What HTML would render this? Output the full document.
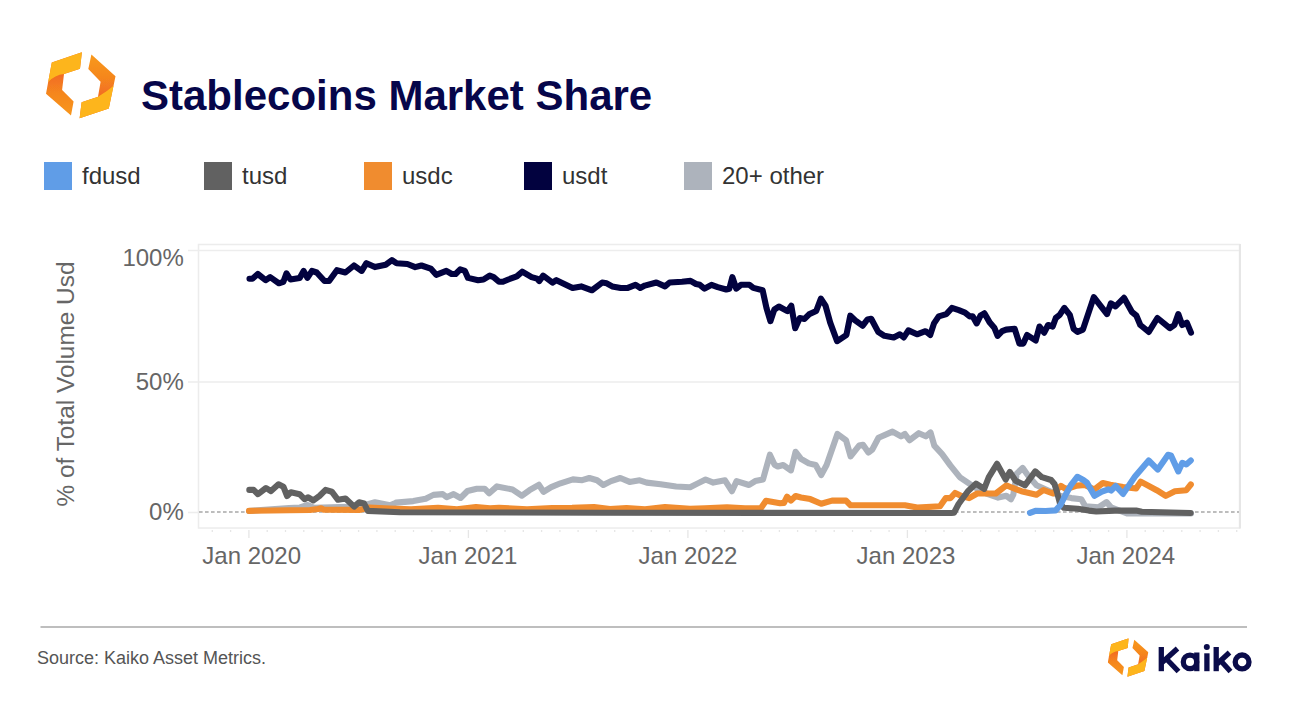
<!DOCTYPE html>
<html><head><meta charset="utf-8">
<style>
html,body{margin:0;padding:0;background:#fff;}
body{width:1290px;height:702px;overflow:hidden;position:relative;}
svg{position:absolute;left:0;top:0;}
text{font-family:"Liberation Sans",sans-serif;}
.ax{font-size:24px;fill:#666666;}
.lg{font-size:24px;fill:#333333;}
</style></head><body>
<svg width="1290" height="702" viewBox="0 0 1290 702">
<defs>
<linearGradient id="gl" gradientUnits="userSpaceOnUse" x1="0" y1="74" x2="0" y2="116">
<stop offset="0" stop-color="#f26a21"/><stop offset="0.45" stop-color="#f5861f"/><stop offset="1" stop-color="#f8971d"/>
</linearGradient>
<linearGradient id="gr" gradientUnits="userSpaceOnUse" x1="0" y1="55" x2="0" y2="97">
<stop offset="0" stop-color="#f8991c"/><stop offset="0.55" stop-color="#f5861f"/><stop offset="1" stop-color="#f26a21"/>
</linearGradient>
<clipPath id="cl"><path d="M81.9,52.2 L51.8,62.4 L46,93.8 L71,115.6 L73.6,101.5 L62.1,90 L64,74 L80,68.8 Z"/></clipPath>
<clipPath id="cr"><path d="M91.4,54.6 L115.5,76.2 L108.8,108.5 L79.6,118.2 L81.6,102.3 L98,96.7 L100.6,81.8 L88.3,69 Z"/></clipPath>
<filter id="soft" x="-10%" y="-10%" width="120%" height="120%"><feGaussianBlur stdDeviation="0.45"/></filter>
<g id="logo" filter="url(#soft)">
<g clip-path="url(#cl)">
<rect x="40" y="45" width="50" height="80" fill="url(#gl)"/>
<path d="M40,40 L95,40 L95,74 L64,74 Q55,74.8 48.2,82 L40,92 Z" fill="#fdb51b"/>
</g>
<g clip-path="url(#cr)">
<rect x="75" y="45" width="50" height="80" fill="url(#gr)"/>
<path d="M125,80 L114.5,84.9 Q106.5,91.8 98,96.7 L70,104 L70,130 L125,130 Z" fill="#fdb51b"/>
</g>
</g>
</defs>
<use href="#logo"/>
<text x="141" y="110" style="font-size:42px;font-weight:bold;fill:#06064a">Stablecoins Market Share</text>
<rect x="44" y="162" width="28" height="28" fill="#609de7"/><text x="82" y="183.5" class="lg">fdusd</text>
<rect x="204" y="162" width="28" height="28" fill="#616161"/><text x="242" y="183.5" class="lg">tusd</text>
<rect x="364" y="162" width="28" height="28" fill="#f08c2f"/><text x="402" y="183.5" class="lg">usdc</text>
<rect x="524" y="162" width="28" height="28" fill="#02023f"/><text x="562" y="183.5" class="lg">usdt</text>
<rect x="684" y="162" width="28" height="28" fill="#adb3bc"/><text x="722" y="183.5" class="lg">20+ other</text>

<text transform="translate(74,384) rotate(-90)" text-anchor="middle" class="ax" style="font-size:24.4px">% of Total Volume Usd</text>
<text x="183.8" y="265.5" text-anchor="end" class="ax">100%</text>
<text x="183.8" y="390" text-anchor="end" class="ax">50%</text>
<text x="183.8" y="520" text-anchor="end" class="ax">0%</text>

<rect x="198.5" y="244.5" width="1041" height="283.5" fill="none" stroke="#ececec" stroke-width="1.5"/>
<line x1="1240" y1="244" x2="1240" y2="528.5" stroke="#e6e6e6" stroke-width="2"/>
<line x1="188" y1="250.5" x2="1239" y2="250.5" stroke="#ededed" stroke-width="1.6"/>
<line x1="188" y1="382" x2="1239" y2="382" stroke="#ededed" stroke-width="1.6"/>
<line x1="188" y1="512.5" x2="198" y2="512.5" stroke="#ededed" stroke-width="1.6"/>
<line x1="199" y1="512" x2="1239" y2="512" stroke="#bdbdbd" stroke-width="1.8" stroke-dasharray="3.6 2.4"/>
<line x1="212.3" y1="530" x2="212.3" y2="532" stroke="#e6e6e6" stroke-width="1.3"/>
<line x1="230.6" y1="530" x2="230.6" y2="532" stroke="#e6e6e6" stroke-width="1.3"/>
<line x1="248.9" y1="530" x2="248.9" y2="538" stroke="#e6e6e6" stroke-width="1.3"/>
<line x1="267.2" y1="530" x2="267.2" y2="532" stroke="#e6e6e6" stroke-width="1.3"/>
<line x1="285.5" y1="530" x2="285.5" y2="532" stroke="#e6e6e6" stroke-width="1.3"/>
<line x1="303.8" y1="530" x2="303.8" y2="532" stroke="#e6e6e6" stroke-width="1.3"/>
<line x1="322.1" y1="530" x2="322.1" y2="532" stroke="#e6e6e6" stroke-width="1.3"/>
<line x1="340.4" y1="530" x2="340.4" y2="532" stroke="#e6e6e6" stroke-width="1.3"/>
<line x1="358.6" y1="530" x2="358.6" y2="532" stroke="#e6e6e6" stroke-width="1.3"/>
<line x1="376.9" y1="530" x2="376.9" y2="532" stroke="#e6e6e6" stroke-width="1.3"/>
<line x1="395.2" y1="530" x2="395.2" y2="532" stroke="#e6e6e6" stroke-width="1.3"/>
<line x1="413.5" y1="530" x2="413.5" y2="532" stroke="#e6e6e6" stroke-width="1.3"/>
<line x1="431.8" y1="530" x2="431.8" y2="532" stroke="#e6e6e6" stroke-width="1.3"/>
<line x1="450.1" y1="530" x2="450.1" y2="532" stroke="#e6e6e6" stroke-width="1.3"/>
<line x1="468.4" y1="530" x2="468.4" y2="538" stroke="#e6e6e6" stroke-width="1.3"/>
<line x1="486.7" y1="530" x2="486.7" y2="532" stroke="#e6e6e6" stroke-width="1.3"/>
<line x1="505.0" y1="530" x2="505.0" y2="532" stroke="#e6e6e6" stroke-width="1.3"/>
<line x1="523.3" y1="530" x2="523.3" y2="532" stroke="#e6e6e6" stroke-width="1.3"/>
<line x1="541.6" y1="530" x2="541.6" y2="532" stroke="#e6e6e6" stroke-width="1.3"/>
<line x1="559.9" y1="530" x2="559.9" y2="532" stroke="#e6e6e6" stroke-width="1.3"/>
<line x1="578.1" y1="530" x2="578.1" y2="532" stroke="#e6e6e6" stroke-width="1.3"/>
<line x1="596.4" y1="530" x2="596.4" y2="532" stroke="#e6e6e6" stroke-width="1.3"/>
<line x1="614.7" y1="530" x2="614.7" y2="532" stroke="#e6e6e6" stroke-width="1.3"/>
<line x1="633.0" y1="530" x2="633.0" y2="532" stroke="#e6e6e6" stroke-width="1.3"/>
<line x1="651.3" y1="530" x2="651.3" y2="532" stroke="#e6e6e6" stroke-width="1.3"/>
<line x1="669.6" y1="530" x2="669.6" y2="532" stroke="#e6e6e6" stroke-width="1.3"/>
<line x1="687.9" y1="530" x2="687.9" y2="538" stroke="#e6e6e6" stroke-width="1.3"/>
<line x1="706.2" y1="530" x2="706.2" y2="532" stroke="#e6e6e6" stroke-width="1.3"/>
<line x1="724.5" y1="530" x2="724.5" y2="532" stroke="#e6e6e6" stroke-width="1.3"/>
<line x1="742.8" y1="530" x2="742.8" y2="532" stroke="#e6e6e6" stroke-width="1.3"/>
<line x1="761.1" y1="530" x2="761.1" y2="532" stroke="#e6e6e6" stroke-width="1.3"/>
<line x1="779.4" y1="530" x2="779.4" y2="532" stroke="#e6e6e6" stroke-width="1.3"/>
<line x1="797.6" y1="530" x2="797.6" y2="532" stroke="#e6e6e6" stroke-width="1.3"/>
<line x1="815.9" y1="530" x2="815.9" y2="532" stroke="#e6e6e6" stroke-width="1.3"/>
<line x1="834.2" y1="530" x2="834.2" y2="532" stroke="#e6e6e6" stroke-width="1.3"/>
<line x1="852.5" y1="530" x2="852.5" y2="532" stroke="#e6e6e6" stroke-width="1.3"/>
<line x1="870.8" y1="530" x2="870.8" y2="532" stroke="#e6e6e6" stroke-width="1.3"/>
<line x1="889.1" y1="530" x2="889.1" y2="532" stroke="#e6e6e6" stroke-width="1.3"/>
<line x1="907.4" y1="530" x2="907.4" y2="538" stroke="#e6e6e6" stroke-width="1.3"/>
<line x1="925.7" y1="530" x2="925.7" y2="532" stroke="#e6e6e6" stroke-width="1.3"/>
<line x1="944.0" y1="530" x2="944.0" y2="532" stroke="#e6e6e6" stroke-width="1.3"/>
<line x1="962.3" y1="530" x2="962.3" y2="532" stroke="#e6e6e6" stroke-width="1.3"/>
<line x1="980.6" y1="530" x2="980.6" y2="532" stroke="#e6e6e6" stroke-width="1.3"/>
<line x1="998.9" y1="530" x2="998.9" y2="532" stroke="#e6e6e6" stroke-width="1.3"/>
<line x1="1017.1" y1="530" x2="1017.1" y2="532" stroke="#e6e6e6" stroke-width="1.3"/>
<line x1="1035.4" y1="530" x2="1035.4" y2="532" stroke="#e6e6e6" stroke-width="1.3"/>
<line x1="1053.7" y1="530" x2="1053.7" y2="532" stroke="#e6e6e6" stroke-width="1.3"/>
<line x1="1072.0" y1="530" x2="1072.0" y2="532" stroke="#e6e6e6" stroke-width="1.3"/>
<line x1="1090.3" y1="530" x2="1090.3" y2="532" stroke="#e6e6e6" stroke-width="1.3"/>
<line x1="1108.6" y1="530" x2="1108.6" y2="532" stroke="#e6e6e6" stroke-width="1.3"/>
<line x1="1126.9" y1="530" x2="1126.9" y2="538" stroke="#e6e6e6" stroke-width="1.3"/>
<line x1="1145.2" y1="530" x2="1145.2" y2="532" stroke="#e6e6e6" stroke-width="1.3"/>
<line x1="1163.5" y1="530" x2="1163.5" y2="532" stroke="#e6e6e6" stroke-width="1.3"/>
<line x1="1181.8" y1="530" x2="1181.8" y2="532" stroke="#e6e6e6" stroke-width="1.3"/>
<line x1="1200.1" y1="530" x2="1200.1" y2="532" stroke="#e6e6e6" stroke-width="1.3"/>
<line x1="1218.4" y1="530" x2="1218.4" y2="532" stroke="#e6e6e6" stroke-width="1.3"/>
<line x1="1236.7" y1="530" x2="1236.7" y2="532" stroke="#e6e6e6" stroke-width="1.3"/>
<text x="202.3" y="564" class="ax">Jan 2020</text>
<text x="418.6" y="564" class="ax">Jan 2021</text>
<text x="638.6" y="564" class="ax">Jan 2022</text>
<text x="856.6" y="564" class="ax">Jan 2023</text>
<text x="1076.4" y="564" class="ax">Jan 2024</text>

<g fill="none" stroke-width="6.1" stroke-linejoin="round" stroke-linecap="round">
<path d="M249.0,511.0 L261.0,510.0 L289.0,508.0 L300.0,507.5 L307.7,505.0 L314.0,507.8 L340.0,507.0 L360.0,506.5 L375.0,502.2 L390.0,505.3 L395.4,503.0 L396.2,502.6 L413.3,501.1 L425.7,498.8 L433.4,494.9 L442.7,494.1 L446.6,497.2 L453.6,494.1 L460.5,498.0 L467.5,491.0 L476.8,488.7 L484.6,488.7 L489.2,493.3 L497.0,486.4 L512.5,489.5 L521.8,495.7 L529.5,490.2 L538.8,484.8 L543.5,491.8 L551.2,487.1 L560.5,483.3 L572.9,479.4 L582.2,480.2 L589.3,478.0 L597.1,480.3 L603.3,485.0 L611.0,481.1 L620.3,478.0 L629.6,481.9 L639.7,480.3 L646.7,482.6 L660.6,484.2 L676.1,486.5 L690.1,487.3 L697.8,483.4 L705.6,479.5 L713.3,482.6 L725.0,480.3 L731.9,491.2 L736.6,481.1 L749.0,485.0 L755.2,481.1 L763.0,479.5 L769.9,454.7 L774.6,464.8 L777.8,466.5 L783.2,465.0 L790.9,470.4 L795.6,451.8 L801.0,458.8 L808.8,463.4 L815.7,465.0 L821.2,475.0 L826.6,465.0 L837.4,434.0 L846.0,440.2 L850.6,456.4 L859.1,445.6 L863.0,444.8 L868.4,452.6 L872.3,449.5 L878.5,437.8 L892.5,431.6 L901.0,436.3 L904.9,434.0 L909.5,440.2 L918.8,433.2 L925.8,436.3 L930.5,432.4 L934.3,445.6 L942.1,454.1 L950.5,465.6 L959.8,477.2 L970.2,484.2 L977.2,488.8 L986.5,493.5 L998.1,497.6 L1006.3,495.8 L1010.9,499.3 L1013.3,494.7 L1016.7,473.7 L1022.6,467.9 L1028.4,476.0 L1036.5,485.3 L1047.0,490.0 L1059.8,495.8 L1071.4,498.1 L1081.3,499.3 L1085.3,506.3 L1098.5,507.3 L1106.5,502.1 L1111.0,507.3 L1127.0,513.5 L1191.0,513.5" stroke="#adb3bc"/>
<path d="M249.5,278.7 L252.4,278.7 L257.8,274.0 L265.6,280.2 L270.2,277.1 L278.8,283.3 L283.4,281.8 L286.5,273.3 L290.4,279.5 L299.7,277.9 L303.6,270.9 L307.4,277.9 L312.0,270.9 L316.7,272.5 L324.5,281.0 L329.1,281.0 L336.9,270.2 L345.4,272.5 L354.0,265.5 L361.7,270.9 L366.4,263.2 L374.9,267.1 L385.7,264.7 L391.9,260.1 L396.6,263.2 L407.4,264.0 L415.2,267.1 L421.4,265.5 L430.7,268.6 L436.2,274.8 L446.3,270.9 L451.7,274.0 L455.6,274.0 L460.2,269.4 L464.9,270.9 L468.0,277.9 L478.1,280.2 L483.5,279.5 L489.7,275.6 L493.6,277.1 L499.0,281.8 L502.9,281.8 L508.3,279.5 L516.8,276.4 L522.2,271.7 L531.6,277.1 L537.0,278.7 L539.3,281.0 L543.2,275.6 L552.5,282.6 L556.4,280.2 L572.6,288.0 L581.2,286.4 L592.0,290.3 L602.1,282.6 L606.7,283.3 L612.2,286.4 L620.7,288.0 L627.8,287.9 L635.5,284.8 L640.2,287.9 L644.8,285.6 L656.4,282.5 L665.0,286.4 L669.6,282.5 L682.0,281.7 L690.5,280.9 L696.0,284.0 L699.8,284.8 L704.5,288.7 L711.5,284.8 L717.7,287.1 L726.2,289.5 L729.3,288.7 L732.4,277.1 L736.3,288.7 L740.9,284.8 L749.5,284.8 L753.3,287.9 L762.6,290.2 L766.5,308.1 L770.4,321.2 L774.3,309.6 L778.9,306.5 L787.4,311.2 L791.3,305.7 L795.2,328.2 L799.8,318.1 L804.5,318.9 L809.1,314.3 L816.2,311.0 L820.9,298.6 L825.5,305.6 L830.2,322.6 L837.1,341.2 L846.4,335.0 L850.3,315.7 L855.0,320.3 L862.7,325.7 L867.4,319.5 L871.2,318.8 L878.2,331.9 L884.4,335.8 L893.7,337.4 L899.9,334.3 L903.8,337.4 L908.4,330.4 L917.0,334.3 L925.5,331.2 L930.2,335.0 L934.0,323.4 L938.7,316.4 L946.4,314.1 L951.9,307.9 L958.8,310.2 L965.0,312.6 L969.7,316.4 L972.8,316.4 L976.7,323.4 L980.5,315.7 L984.4,313.3 L989.8,322.6 L994.5,328.1 L997.6,335.8 L1002.2,331.2 L1006.2,329.6 L1014.7,328.8 L1019.4,343.6 L1023.3,343.6 L1027.1,335.0 L1035.7,340.5 L1039.5,326.5 L1044.2,332.7 L1048.1,325.0 L1052.7,326.5 L1055.8,318.0 L1059.7,314.9 L1064.3,307.9 L1069.8,314.9 L1073.6,328.8 L1077.5,331.9 L1082.9,329.6 L1093.8,297.1 L1107.0,314.1 L1110.9,303.3 L1115.5,306.4 L1124.0,297.8 L1131.8,311.8 L1136.4,315.7 L1140.3,325.0 L1148.8,331.9 L1157.4,318.0 L1169.8,328.1 L1174.4,325.0 L1178.3,314.1 L1182.2,325.0 L1186.8,322.6 L1191.0,332.7" stroke="#02023f"/>
<path d="M249.0,510.9 L289.0,510.2 L310.0,510.0 L318.0,509.0 L321.0,508.3 L324.0,509.8 L360.0,509.9 L369.0,507.5 L390.0,508.5 L411.0,509.3 L438.0,507.8 L457.0,509.3 L476.0,507.0 L490.0,508.3 L499.0,507.8 L527.0,509.3 L552.0,508.0 L572.0,507.8 L594.0,507.0 L610.0,509.0 L626.5,508.0 L645.0,509.2 L665.0,507.0 L690.0,508.8 L705.0,508.3 L727.0,507.3 L745.0,508.3 L761.0,508.0 L766.0,500.8 L780.0,503.3 L784.0,502.9 L787.1,496.7 L790.9,500.6 L795.6,496.0 L801.0,497.5 L810.3,499.1 L821.2,503.7 L832.0,500.6 L846.0,500.6 L850.6,505.3 L863.0,505.3 L883.2,505.3 L904.9,505.3 L917.3,507.6 L940.0,506.3 L945.8,498.1 L950.5,498.1 L955.1,492.9 L960.9,495.8 L969.1,498.1 L977.2,493.5 L986.5,493.5 L995.8,493.5 L1006.3,485.3 L1012.1,487.7 L1021.4,491.2 L1036.5,494.7 L1043.5,490.0 L1052.8,493.5 L1060.9,485.9 L1065.6,488.8 L1070.0,487.9 L1076.8,485.6 L1084.8,485.0 L1094.4,489.5 L1102.8,483.0 L1110.2,484.8 L1123.1,487.0 L1136.1,488.5 L1140.7,481.6 L1156.7,490.2 L1165.8,495.9 L1174.9,491.3 L1186.3,490.2 L1190.8,484.5" stroke="#f08c2f"/>
<path d="M249.3,489.9 L253.6,489.9 L258.0,494.2 L266.0,488.0 L271.0,491.1 L278.5,484.3 L283.4,486.7 L287.1,496.0 L290.9,492.3 L299.6,494.2 L304.5,499.2 L308.2,497.3 L313.2,500.4 L319.4,496.0 L325.6,489.9 L331.8,491.7 L338.0,499.8 L345.5,498.5 L354.1,506.6 L359.1,502.3 L364.1,503.5 L367.8,510.9 L400.0,512.2 L600.0,512.8 L951.4,513.0 L954.0,512.7 L958.6,504.0 L967.9,491.2 L976.0,483.6 L984.2,488.8 L988.8,477.2 L997.0,463.8 L1005.7,479.5 L1009.8,472.0 L1015.6,480.7 L1024.9,485.3 L1035.3,471.4 L1041.9,477.2 L1051.1,480.0 L1054.5,484.0 L1057.0,492.0 L1060.2,504.1 L1063.9,507.8 L1077.8,508.7 L1088.9,510.6 L1096.3,511.5 L1114.8,510.6 L1136.1,510.6 L1141.8,511.8 L1190.6,513.0" stroke="#616161"/>
<path d="M1030.0,512.9 L1035.4,510.8 L1045.6,511.0 L1055.6,510.4 L1060.5,505.0 L1066.0,494.0 L1071.3,484.6 L1077.3,476.8 L1083.3,480.0 L1087.0,482.8 L1094.4,495.7 L1101.9,491.6 L1108.3,489.3 L1111.1,490.6 L1115.7,486.0 L1123.1,493.9 L1135.0,476.5 L1148.7,460.5 L1157.8,469.6 L1168.1,454.8 L1170.9,455.4 L1178.3,471.4 L1182.3,462.8 L1186.3,464.5 L1190.8,460.5" stroke="#609de7"/>
</g>

<line x1="40.5" y1="627" x2="1247" y2="627" stroke="#bebebe" stroke-width="1.8"/>
<text x="37" y="664" style="font-size:18px;fill:#555555">Source: Kaiko Asset Metrics.</text>
<use href="#logo" transform="translate(1107.8,638.3) scale(0.583) translate(-46,-52.2)"/>
<g fill="none" stroke="#0b0c4a" stroke-width="5.3">
<line x1="1161.3" y1="647" x2="1161.3" y2="671.2"/>
<path d="M1162,662.5 L1177.5,648.5" stroke-linecap="butt"/>
<path d="M1166.5,659 L1178.5,671.5" stroke-linecap="butt"/>
<circle cx="1190" cy="661.9" r="6.7"/>
<line x1="1196.8" y1="652.5" x2="1196.8" y2="671.2"/>
<line x1="1206.9" y1="653.3" x2="1206.9" y2="671.2"/>
<line x1="1216.2" y1="647" x2="1216.2" y2="671.2"/>
<path d="M1217,664 L1229.5,652.5"/>
<path d="M1220.5,660.5 L1230.5,671.5"/>
<circle cx="1242.1" cy="661.9" r="6.9"/>
</g>
<circle cx="1206.8" cy="646.9" r="3" fill="#0b0c4a"/>
</svg>
</body></html>
